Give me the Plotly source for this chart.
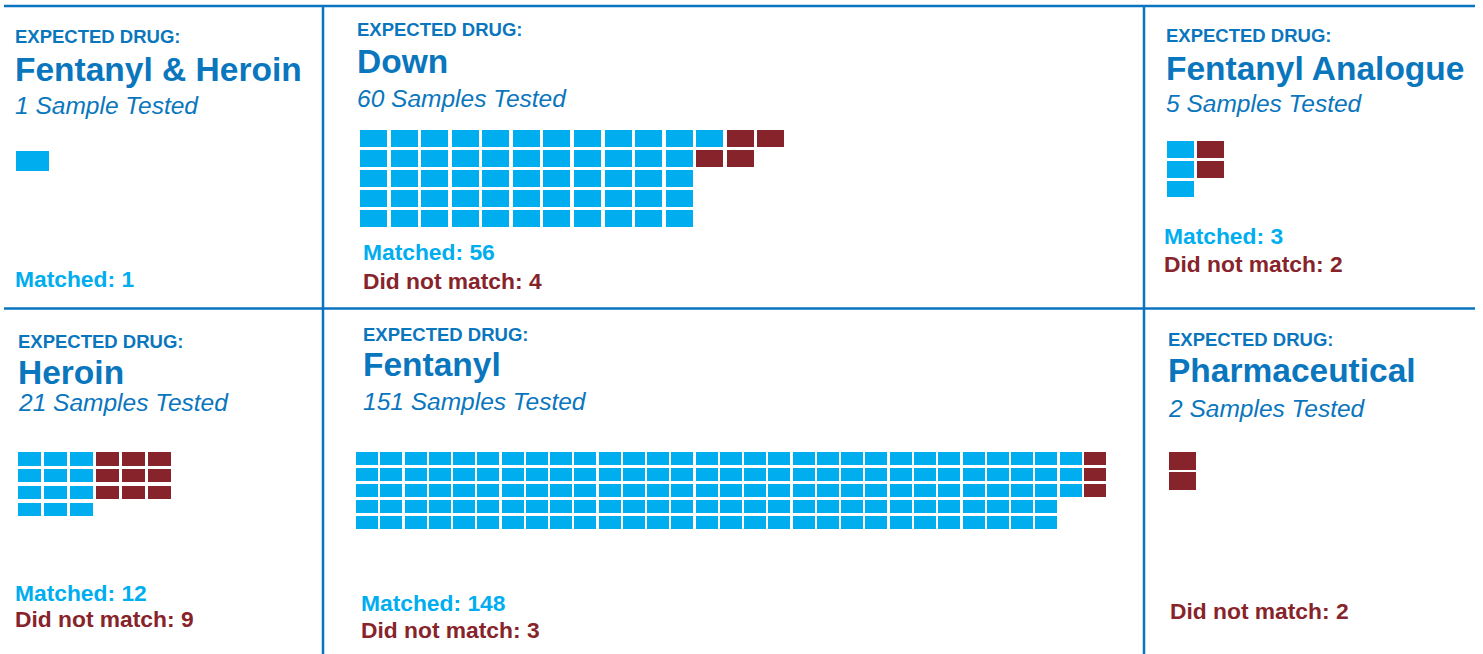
import plotly.graph_objects as go

W, H = 1483, 654

# ---------------- data ----------------
drugs = ["Fentanyl & Heroin", "Down", "Fentanyl Analogue", "Heroin", "Fentanyl", "Pharmaceutical"]
tested = [1, 60, 5, 21, 151, 2]
matched = [1, 56, 3, 12, 148, 0]
not_matched = [0, 4, 2, 9, 3, 2]

# ---------------- layout / style (pixels) ----------------
match_col_height = [5, 5, 3, 4, 5, 5]
miss_col_height = [2, 2, 2, 3, 3, 2]
grid_left = [16, 360, 1167, 18, 356, 1169]
grid_top = [151, 130, 141, 452, 452, 452]
pitch_x = [33, 30.57, 30, 25.9, 24.26, 30]
pitch_y = [20, 20, 19.8, 16.9, 16, 20.3]
cell_w = [33, 27, 27, 23, 22, 27]
cell_h = [20, 16.7, 16.7, 13.5, 13, 17.5]

TEXT_DX = -2
text_left = [15, 357, 1166, 18, 363, 1168]
count_left = [15, 363, 1164, 15, 361, 1170]
y_head = [36.5, 29.5, 35.5, 341, 334, 339.5]
y_title = [69, 61.5, 68.5, 372, 364, 370.5]
y_sub = [105, 98, 103.5, 402, 401.5, 408.5]
y_match = [279, 252, 236, 593, 603, None]
y_miss = [None, 281, 264, 618.5, 630, 611]

BLUE_TXT = "#0a76bd"
BLUE_CELL = "#00aeef"
RED = "#87232a"
LINE = "#0b74c1"
FONT = "Liberation Sans, Arial, sans-serif"


def waffle_cells(n_match, n_miss, h_match, h_miss):
    out = []
    for i in range(n_match):
        out.append((i // h_match, i % h_match, "match"))
    if n_match > 0:
        col, row = (n_match - 1) // h_match, (n_match - 1) % h_match + 1
        if row >= h_miss:
            col, row = col + 1, 0
    else:
        col, row = 0, 0
    for _ in range(n_miss):
        out.append((col, row, "miss"))
        row += 1
        if row >= h_miss:
            row, col = 0, col + 1
    return out


fig = go.Figure()
annotations = []


def add_text(txt, x, y, size, color, bold=True, italic=False):
    if bold:
        txt = "<b>" + txt + "</b>"
    if italic:
        txt = "<i>" + txt + "</i>"
    annotations.append(dict(text=txt, x=(x + TEXT_DX) / W, y=1 - y / H, xref="paper", yref="paper",
                            xanchor="left", yanchor="middle", showarrow=False,
                            font=dict(family=FONT, size=size, color=color)))


for i, drug in enumerate(drugs):
    cells = waffle_cells(matched[i], not_matched[i], match_col_height[i], miss_col_height[i])
    ncols = max(c for c, r, k in cells) + 1
    nrows = max(r for c, r, k in cells) + 1
    ax = "" if i == 0 else str(i + 1)
    x0 = grid_left[i] / W
    x1 = (grid_left[i] + ncols * pitch_x[i]) / W
    y1 = 1 - grid_top[i] / H
    y0 = 1 - (grid_top[i] + nrows * pitch_y[i]) / H
    fig.layout["xaxis" + ax] = dict(domain=[x0, x1], range=[0, ncols], visible=False,
                                    fixedrange=True, anchor="y" + ax)
    fig.layout["yaxis" + ax] = dict(domain=[y0, y1], range=[nrows, 0], visible=False,
                                    fixedrange=True, anchor="x" + ax)
    for kind, color in (("match", BLUE_CELL), ("miss", RED)):
        sel = [(c, r) for c, r, k in cells if k == kind]
        if not sel:
            continue
        wfrac = cell_w[i] / pitch_x[i]
        hfrac = cell_h[i] / pitch_y[i]
        fig.add_trace(go.Bar(
            x=[c + wfrac / 2 for c, r in sel],
            y=[hfrac] * len(sel),
            base=[r for c, r in sel],
            width=[wfrac] * len(sel),
            marker=dict(color=color, line=dict(width=0)),
            xaxis="x" + ax, yaxis="y" + ax,
            showlegend=False, hoverinfo="skip",
        ))

    add_text("EXPECTED DRUG:", text_left[i], y_head[i], 18.5, BLUE_TXT)
    add_text(drug, text_left[i], y_title[i], 33.5, BLUE_TXT)
    word = "Sample" if tested[i] == 1 else "Samples"
    add_text(f"{tested[i]} {word} Tested", text_left[i], y_sub[i], 24.5, BLUE_TXT, bold=False, italic=True)
    if matched[i] > 0:
        add_text(f"Matched: {matched[i]}", count_left[i], y_match[i], 22.8, BLUE_CELL)
    if not_matched[i] > 0:
        add_text(f"Did not match: {not_matched[i]}", count_left[i], y_miss[i], 22.8, RED)

shapes = []


def pline(xa, ya, xb, yb):
    shapes.append(dict(type="line", xref="paper", yref="paper",
                       x0=xa / W, y0=1 - ya / H, x1=xb / W, y1=1 - yb / H,
                       line=dict(color=LINE, width=2.5)))


pline(4, 6, 1475, 6)
pline(4, 308.5, 1475, 308.5)
pline(323, 6, 323, 654)
pline(1144, 6, 1144, 654)

fig.update_layout(
    width=W, height=H,
    margin=dict(l=0, r=0, t=0, b=0),
    paper_bgcolor="white", plot_bgcolor="white",
    barmode="overlay", bargap=0,
    annotations=annotations, shapes=shapes,
    showlegend=False,
)

fig.write_html("out.html", config={"displayModeBar": False},
               post_script="document.body.style.margin='0';document.body.style.overflow='hidden';")
